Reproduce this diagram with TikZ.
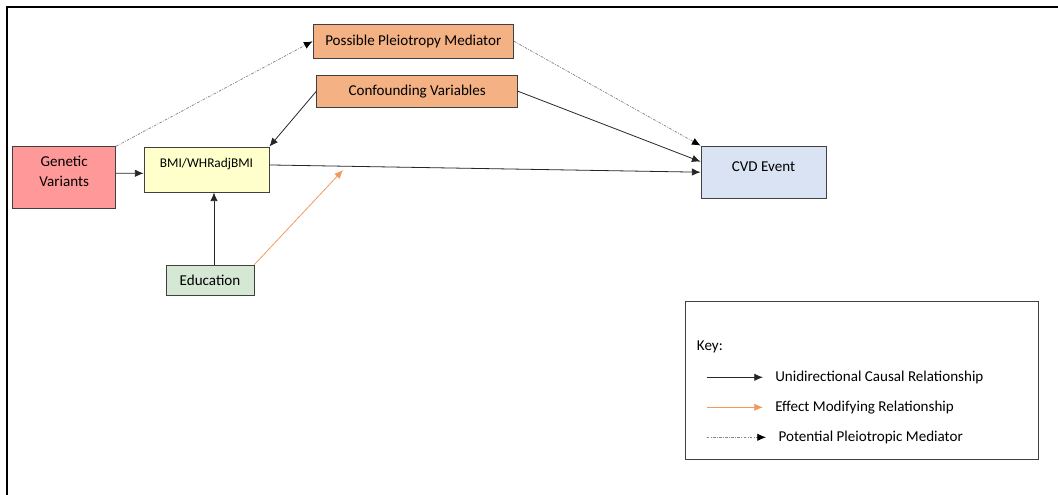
\documentclass[tikz,border=0pt]{standalone}
\usepackage{fontspec}
\setmainfont{Carlito}
\usetikzlibrary{arrows.meta}
\definecolor{gvred}{HTML}{FF9999}
\definecolor{bmiyellow}{HTML}{FFFFCC}
\definecolor{confoundorange}{HTML}{F4B183}
\definecolor{cvdblue}{HTML}{DAE3F3}
\definecolor{edugreen}{HTML}{D5E8D4}
\definecolor{boxline}{HTML}{404040}
\definecolor{modorange}{HTML}{F29A5E}
\tikzset{>={Latex[length=6.5pt,width=5.5pt]}}
\tikzset{
  box/.style={draw=boxline, line width=0.6pt, inner sep=0pt, align=center, font=\fontsize{11.3}{15}\selectfont},
  causal/.style={->, line width=0.6pt, draw=black!85},
  modify/.style={->, line width=0.6pt, draw=modorange},
  pleio/.style={-{Latex[length=6.5pt,width=5.5pt,black]}, line width=0.55pt, draw=gray!95, dash pattern=on 2pt off 1pt on 0.6pt off 1pt},
  keytext/.style={anchor=west, inner sep=0pt, font=\fontsize{11.3}{13}\selectfont}
}
\begin{document}
\begin{tikzpicture}[x=0.75pt,y=-0.75pt]
  \useasboundingbox (0,0) rectangle (1058,495);
  % outer frame
  \draw[line width=1.5pt] (6.5,495) -- (6.5,7.5) -- (1058,7.5);
  % nodes
  \node[box, fill=gvred, minimum width=77.25pt, minimum height=46pt, text depth=9.5pt] (gv) at (64.2,177.3) {Genetic\\Variants};
  \node[box, fill=bmiyellow, minimum width=93.75pt, minimum height=33.75pt, text depth=10.5pt, font=\fontsize{10}{12}\selectfont] (bmi) at (206.5,169.5) {BMI/WHRadjBMI};
  \node[box, fill=confoundorange, minimum width=150.5pt, minimum height=25.5pt] (ppm) at (413.3,41.3) {Possible Pleiotropy Mediator};
  \node[box, fill=confoundorange, minimum width=150.75pt, minimum height=24.5pt] (conf) at (417.2,91.3) {Confounding Variables};
  \node[box, fill=cvdblue, minimum width=93.75pt, minimum height=39.25pt, text depth=9pt] (cvd) at (763.5,172.2) {CVD Event};
  \node[box, fill=edugreen, minimum width=66pt, minimum height=22.5pt] (edu) at (210,280) {Education};
  \coordinate (modpt) at (343,170);
  % connectors
  \draw[causal] ([yshift=3pt]gv.east) -- ([yshift=-2.85pt]bmi.west);
  \draw[causal] ([xshift=3pt]edu.north) -- ([xshift=3pt]edu.north |- bmi.south);
  \draw[modify] (edu.north east) -- (modpt);
  \draw[causal] (conf.west) -- (bmi.north east);
  \draw[causal] (conf.east) -- ([yshift=7.9pt]cvd.west);
  \draw[causal] ([yshift=3.4pt]bmi.east) -- (cvd.west);
  \draw[pleio] (gv.north east) -- (ppm.west);
  \draw[pleio] (ppm.east) -- (cvd.north west);
  % key
  \node[draw=boxline, line width=0.6pt, minimum width=264.5pt, minimum height=118.75pt, inner sep=0pt] (key) at (862,380.2) {};
  \node[keytext] (keylabel) at (696.7,347) {Key:};
  \node[keytext] (k1) at (775,377.3) {Unidirectional Causal Relationship};
  \node[keytext] (k2) at (775,407.3) {Effect Modifying Relationship};
  \node[keytext] (k3) at (778.3,437.3) {Potential Pleiotropic Mediator};
  \coordinate (k1a) at (706.7,377.3);
  \coordinate (k1b) at (763,377.3);
  \coordinate (k2a) at (706.7,407.3);
  \coordinate (k2b) at (763,407.3);
  \coordinate (k3a) at (706.7,437.3);
  \coordinate (k3b) at (766,437.3);
  \draw[causal] (k1a) -- (k1b);
  \draw[modify] (k2a) -- (k2b);
  \draw[pleio] (k3a) -- (k3b);
\end{tikzpicture}
\end{document}
